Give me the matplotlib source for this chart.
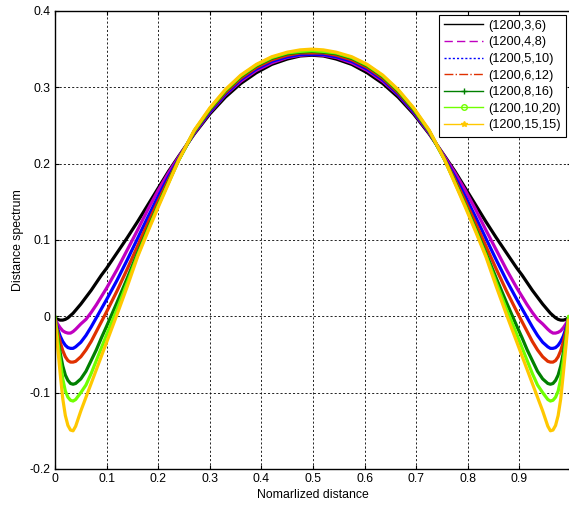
import numpy as np
import matplotlib
matplotlib.use("Agg")
import matplotlib.pyplot as plt
from matplotlib.lines import Line2D
from matplotlib.ticker import FormatStrFormatter

plt.rcParams['font.family'] = ['Liberation Sans', 'DejaVu Sans']

# left half of each curve (the curves are mirror images about the centre)
x_half = [0.0, 0.005, 0.01, 0.015, 0.02, 0.025, 0.03, 0.035, 0.04, 0.05, 0.06,
          0.07, 0.08, 0.09, 0.10, 0.12, 0.14, 0.16, 0.18, 0.20, 0.22, 0.24,
          0.27, 0.30, 0.33, 0.36, 0.39, 0.42, 0.45, 0.475, 0.4975]

labels = ["(1200,3,6)", "(1200,4,8)", "(1200,5,10)", "(1200,6,12)",
          "(1200,8,16)", "(1200,10,20)", "(1200,15,15)"]

d_3_6 = [-0.002, -0.004, -0.005, -0.005, -0.004, -0.002, 0.001, 0.004, 0.008, 0.016, 0.025,
         0.034, 0.044, 0.054, 0.063, 0.083, 0.103, 0.124, 0.146, 0.168, 0.190, 0.210,
         0.239, 0.265, 0.287, 0.305, 0.319, 0.330, 0.337, 0.341, 0.342]
d_4_8 = [-0.003, -0.010, -0.015, -0.019, -0.021, -0.022, -0.022, -0.020, -0.017, -0.010, -0.004,
         0.005, 0.015, 0.026, 0.037, 0.061, 0.087, 0.113, 0.140, 0.165, 0.188, 0.209,
         0.240, 0.267, 0.290, 0.308, 0.322, 0.332, 0.339, 0.342, 0.343]
d_5_10 = [-0.005, -0.016, -0.026, -0.033, -0.038, -0.041, -0.042, -0.042, -0.040, -0.034, -0.025,
          -0.014, -0.002, 0.010, 0.022, 0.047, 0.074, 0.102, 0.130, 0.157, 0.183, 0.207,
          0.241, 0.268, 0.291, 0.310, 0.324, 0.334, 0.340, 0.343, 0.343]
d_6_12 = [-0.005, -0.020, -0.034, -0.045, -0.053, -0.058, -0.060, -0.060, -0.059, -0.053, -0.044,
          -0.033, -0.020, -0.007, 0.006, 0.033, 0.062, 0.092, 0.122, 0.151, 0.179, 0.206,
          0.242, 0.270, 0.293, 0.312, 0.326, 0.336, 0.342, 0.345, 0.345]
d_8_16 = [-0.005, -0.028, -0.048, -0.065, -0.077, -0.084, -0.088, -0.089, -0.088, -0.082, -0.072,
          -0.058, -0.044, -0.028, -0.013, 0.018, 0.050, 0.083, 0.115, 0.146, 0.176, 0.205,
          0.243, 0.271, 0.295, 0.314, 0.328, 0.338, 0.344, 0.346, 0.347]
d_10_20 = [0.000, -0.030, -0.058, -0.082, -0.098, -0.106, -0.110, -0.111, -0.109, -0.100, -0.090,
           -0.075, -0.058, -0.041, -0.024, 0.009, 0.044, 0.080, 0.113, 0.145, 0.175, 0.205,
           0.243, 0.272, 0.296, 0.315, 0.329, 0.339, 0.345, 0.347, 0.348]
d_15_15 = [-0.005, -0.040, -0.075, -0.108, -0.130, -0.143, -0.149, -0.150, -0.144, -0.124, -0.106,
           -0.088, -0.070, -0.052, -0.034, 0.002, 0.039, 0.078, 0.111, 0.143, 0.174, 0.205,
           0.244, 0.273, 0.297, 0.316, 0.330, 0.340, 0.346, 0.349, 0.350]

series = [d_3_6, d_4_8, d_5_10, d_6_12, d_8_16, d_10_20, d_15_15]
colors = ["#000000", "#c000c0", "#0000ff", "#e03000", "#008000", "#70ff00", "#ffc800"]
styles = ["-", (0, (6, 3)), (0, (1.5, 1.5)), "-.", "-", "-", "-"]
markers = [None, None, None, None, "+", "o", "*"]

fig = plt.figure(figsize=(5.69, 5.07), dpi=100)
ax = fig.add_axes([0.0967, 0.075, 0.9069, 0.9034])

xh = np.array(x_half)
x_full = np.concatenate([xh, 0.995 - xh[-2::-1]])
for vals, c in zip(series, colors):
    v = np.array(vals)
    y_full = np.concatenate([v, v[-2::-1]])
    ax.plot(x_full, y_full, color=c, lw=2.3, solid_capstyle="round")

ax.set_xlim(0, 1.0)
ax.set_ylim(-0.2, 0.4)
ax.set_xticks(np.arange(0, 1.0, 0.1))
ax.set_yticks(np.arange(-0.2, 0.41, 0.1))
ax.xaxis.set_major_formatter(FormatStrFormatter('%g'))
ax.yaxis.set_major_formatter(FormatStrFormatter('%g'))
ax.set_xticklabels(['0', '0.1', '0.2', '0.3', '0.4', '0.5', '0.6', '0.7', '0.8', '0.9'])
ax.set_yticklabels(['-0.2', '-0.1', '0', '0.1', '0.2', '0.3', '0.4'])
ax.tick_params(direction="in", top=True, right=True, labelsize=8.8, length=3, pad=3)
ax.grid(True, color="black", linestyle=(0, (2.5, 2.5)), linewidth=0.6)
for s in ax.spines.values():
    s.set_linewidth(1.0)

ax.set_xlabel("Nomarlized distance", fontsize=8.8, labelpad=3)
ax.set_ylabel("Distance spectrum", fontsize=8.8, labelpad=4)

handles = [Line2D([], [], color=c, linestyle=ls, marker=m, markersize=4,
                  markerfacecolor="none" if m == "o" else c, lw=1.0)
           for c, ls, m in zip(colors, styles, markers)]
leg = ax.legend(handles, labels, loc="upper right", fontsize=9.2, handlelength=3.0,
                frameon=True, fancybox=False, edgecolor="black", framealpha=1,
                borderaxespad=0.3, labelspacing=0.36, handletextpad=0.4,
                borderpad=0.4, bbox_to_anchor=(0.997, 1.0))
leg.get_frame().set_linewidth(0.8)

fig.savefig("out.png", dpi=100)
